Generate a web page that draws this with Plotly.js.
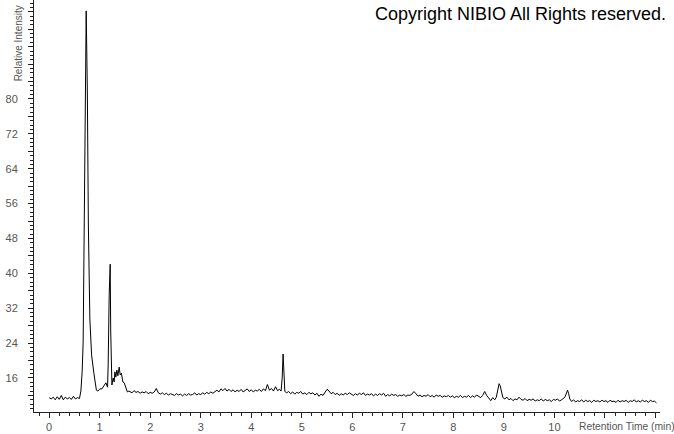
<!DOCTYPE html>
<html>
<head>
<meta charset="utf-8">
<script src="https://cdn.plot.ly/plotly-3.0.1.min.js"></script>
<style>html,body{margin:0;padding:0;background:#fff;}#chart{width:674px;height:434px;}</style>
</head>
<body>
<div id="chart"></div>
<script>
// Retention time (min)
const retentionTime = [
0.00,0.04,0.08,0.12,0.16,0.20,0.24,0.28,0.32,0.36,0.40,0.44,0.48,0.52,0.56,0.60,
0.628,0.653,0.673,0.691,0.711,0.733,0.756,0.776,0.806,0.840,0.885,0.935,0.964,1.004,1.044,1.083,1.123,1.156,1.168,1.188,1.208,1.218,1.228,1.242,1.267,1.287,1.301,1.320,1.340,1.360,1.386,1.406,1.430,1.459,1.485,1.519,1.549,1.578,
1.60,1.64,1.68,1.72,1.76,1.80,1.84,1.88,1.92,1.96,2.00,2.04,2.08,2.12,2.16,2.20,2.24,2.28,2.32,2.36,2.40,2.44,2.48,2.52,2.56,2.60,2.64,2.68,2.72,2.76,2.80,2.84,2.88,2.92,2.96,3.00,3.04,3.08,3.12,3.16,3.20,3.24,3.28,3.32,3.36,3.40,3.44,3.48,3.52,3.56,3.60,3.64,3.68,3.72,3.76,3.80,3.84,3.88,3.92,3.96,4.00,4.04,4.08,4.12,4.16,4.20,4.24,4.28,4.32,4.36,4.40,4.44,4.48,4.52,4.56,
4.590,4.612,4.630,4.650,4.665,
4.70,4.74,4.78,4.82,4.86,4.90,4.94,4.98,5.02,5.06,5.10,5.14,5.18,5.22,5.26,5.30,5.34,5.38,5.42,5.46,5.50,5.54,5.58,5.62,5.66,5.70,5.74,5.78,5.82,5.86,5.90,5.94,5.98,6.02,6.06,6.10,6.14,6.18,6.22,6.26,6.30,6.34,6.38,6.42,6.46,6.50,6.54,6.58,6.62,6.66,6.70,6.74,6.78,6.82,6.86,6.90,6.94,6.98,7.02,7.06,7.10,7.14,7.18,7.22,7.26,7.30,7.34,7.38,7.42,7.46,7.50,7.54,7.58,7.62,7.66,7.70,7.74,7.78,7.82,7.86,7.90,7.94,7.98,8.02,8.06,8.10,8.14,8.18,8.22,8.26,8.30,8.34,8.38,8.42,8.46,8.50,8.54,8.58,8.62,8.66,8.70,8.74,8.78,8.82,8.85,
8.875,8.905,8.925,8.950,8.980,
9.02,9.06,9.10,9.14,9.18,9.22,9.26,9.30,9.34,9.38,9.42,9.46,9.50,9.54,9.58,9.62,9.66,9.70,9.74,9.78,9.82,9.86,9.90,9.94,9.98,10.02,10.06,10.10,10.14,10.18,
10.215,10.240,10.260,10.280,10.305,
10.34,10.38,10.42,10.46,10.50,10.54,10.58,10.62,10.66,10.70,10.74,10.78,10.82,10.86,10.90,10.94,10.98,11.02,11.06,11.10,11.14,11.18,11.22,11.26,11.30,11.34,11.38,11.42,11.46,11.50,11.54,11.58,11.62,11.66,11.70,11.74,11.78,11.82,11.86,11.90,11.94,11.98,12.02
];
// Relative intensity (%)
const relativeIntensity = [
11.5,11.2,11.6,11.0,11.7,11.1,12.0,11.0,11.6,11.2,11.5,11.1,11.8,11.2,11.5,11.3,
13.0,17.4,24.3,46.3,81.6,100.2,81.6,51.1,29.3,21.3,17.1,13.2,13.0,13.5,13.5,14.2,14.9,13.9,19.0,35.0,42.1,27.0,16.0,14.4,16.0,15.1,17.4,16.2,17.8,16.5,18.5,16.7,17.1,15.1,14.9,13.7,12.8,13.0,
12.9,12.6,13.1,12.7,12.9,12.5,12.8,12.6,12.9,12.4,12.7,12.5,12.8,13.6,12.6,12.3,12.6,12.2,12.5,12.1,12.4,12.2,12.0,12.4,12.1,12.3,11.9,12.3,12.0,12.4,12.1,12.2,12.6,12.1,12.4,12.2,12.6,12.3,12.7,12.4,12.8,12.5,12.9,13.2,12.8,13.5,13.1,13.6,13.0,13.4,12.9,13.3,12.8,13.2,12.9,13.4,12.8,13.1,13.5,12.9,13.3,12.8,13.2,13.0,13.4,12.9,13.5,13.1,14.5,13.2,13.6,13.0,14.0,13.1,13.4,
13.0,16.0,21.5,15.8,12.9,
12.6,12.9,12.4,12.8,12.3,12.7,12.5,12.9,12.3,12.6,12.2,12.7,12.4,12.6,12.1,12.5,11.8,12.3,12.0,12.8,13.4,13.0,12.4,12.7,12.2,12.5,12.0,12.4,12.1,12.5,12.2,12.6,12.3,12.0,12.4,12.1,12.5,12.2,12.6,12.0,12.3,12.1,12.4,11.9,12.3,12.0,12.4,12.1,12.5,11.8,12.2,11.9,12.3,12.0,12.2,11.8,12.1,11.9,12.2,11.8,12.1,12.0,12.3,12.9,12.4,11.8,12.1,11.7,12.0,11.8,12.2,11.7,12.0,11.6,12.1,11.8,12.0,11.6,11.9,11.7,12.0,11.6,11.9,11.5,11.8,11.6,12.0,11.5,11.8,11.6,12.0,11.5,11.9,11.6,12.1,11.7,11.5,12.0,12.9,12.0,11.4,10.8,11.5,11.0,11.6,
13.5,14.7,14.3,12.8,11.5,
11.2,11.6,11.0,11.3,10.8,11.2,11.0,11.6,11.1,10.9,11.3,10.8,11.1,10.9,11.2,10.7,11.0,10.8,11.2,10.7,11.1,10.8,11.0,10.6,11.1,10.9,11.2,10.7,11.0,11.3,
11.8,12.7,13.2,12.5,11.2,
10.6,11.0,10.5,10.8,10.6,11.0,10.5,10.9,10.6,10.8,10.4,10.9,10.6,10.8,10.5,10.9,10.6,10.8,10.4,10.9,10.6,10.7,10.4,10.9,10.5,10.8,10.6,10.9,10.4,10.8,10.6,11.0,10.5,10.8,10.5,10.9,10.6,10.8,10.4,10.9,10.6,10.7,10.3
];
const xTickVals = [0,1,2,3,4,5,6,7,8,9,10,11,12];
const xTickText = ['0','1','2','3','4','5','6','7','8','9','10','',''];
const yTickVals = [12,16,20,24,28,32,36,40,44,48,52,56,60,64,68,72,76,80,84,88,92,96,100];
const yTickText = ['','16','','24','','32','','40','','48','','56','','64','','72','','80','','','','',''];

const tickFont = {family: 'Arial, Liberation Sans, sans-serif', size: 11, color: '#555'};

const trace = {
  x: retentionTime,
  y: relativeIntensity,
  type: 'scatter',
  mode: 'lines',
  line: {color: '#000', width: 1},
  hoverinfo: 'skip'
};

const layout = {
  width: 674, height: 434,
  margin: {l: 34, r: 14, t: 0, b: 22},
  paper_bgcolor: '#fff', plot_bgcolor: '#fff',
  showlegend: false,
  xaxis: {
    range: [-0.3, 12.09], showgrid: false, zeroline: false,
    showline: true, linecolor: '#222', linewidth: 1,
    ticks: 'outside', ticklen: 5, tickcolor: '#222', tickwidth: 1,
    tickmode: 'array', tickvals: xTickVals, ticktext: xTickText,
    tickfont: tickFont,
    minor: {tickmode: 'linear', tick0: 0, dtick: 0.2, ticks: 'outside', ticklen: 3, tickcolor: '#222', showgrid: false}
  },
  yaxis: {
    range: [8.2, 102.7], showgrid: false, zeroline: false,
    showline: true, linecolor: '#222', linewidth: 1,
    ticks: 'outside', ticklen: 5, tickcolor: '#222', tickwidth: 1,
    tickmode: 'array', tickvals: yTickVals, ticktext: yTickText,
    tickfont: tickFont, ticklabelstandoff: 8,
    minor: {tickmode: 'linear', tick0: 0, dtick: 1, ticks: 'outside', ticklen: 3, tickcolor: '#222', showgrid: false}
  },
  annotations: [
    {text: 'Relative Intensity', xref: 'paper', yref: 'paper', x: -0.0256, y: 0.8,
     xanchor: 'center', yanchor: 'bottom', textangle: -90, showarrow: false, borderpad: 0,
     font: {family: 'Arial, Liberation Sans, sans-serif', size: 10, color: '#555'}},
    {text: 'Retention Time (min)', xref: 'paper', yref: 'paper', x: 0.8674, y: -0.0364,
     xanchor: 'left', yanchor: 'middle', showarrow: false,
     font: {family: 'Arial, Liberation Sans, sans-serif', size: 10.3, color: '#555'}},
    {text: 'Copyright NIBIO All Rights reserved.', xref: 'paper', yref: 'paper', x: 1.0128, y: 0.966,
     xanchor: 'right', yanchor: 'middle', showarrow: false,
     font: {family: 'Arial, Liberation Sans, sans-serif', size: 18, color: '#000'}}
  ]
};

Plotly.newPlot('chart', [trace], layout, {displayModeBar: false, staticPlot: true});
</script>
</body>
</html>
